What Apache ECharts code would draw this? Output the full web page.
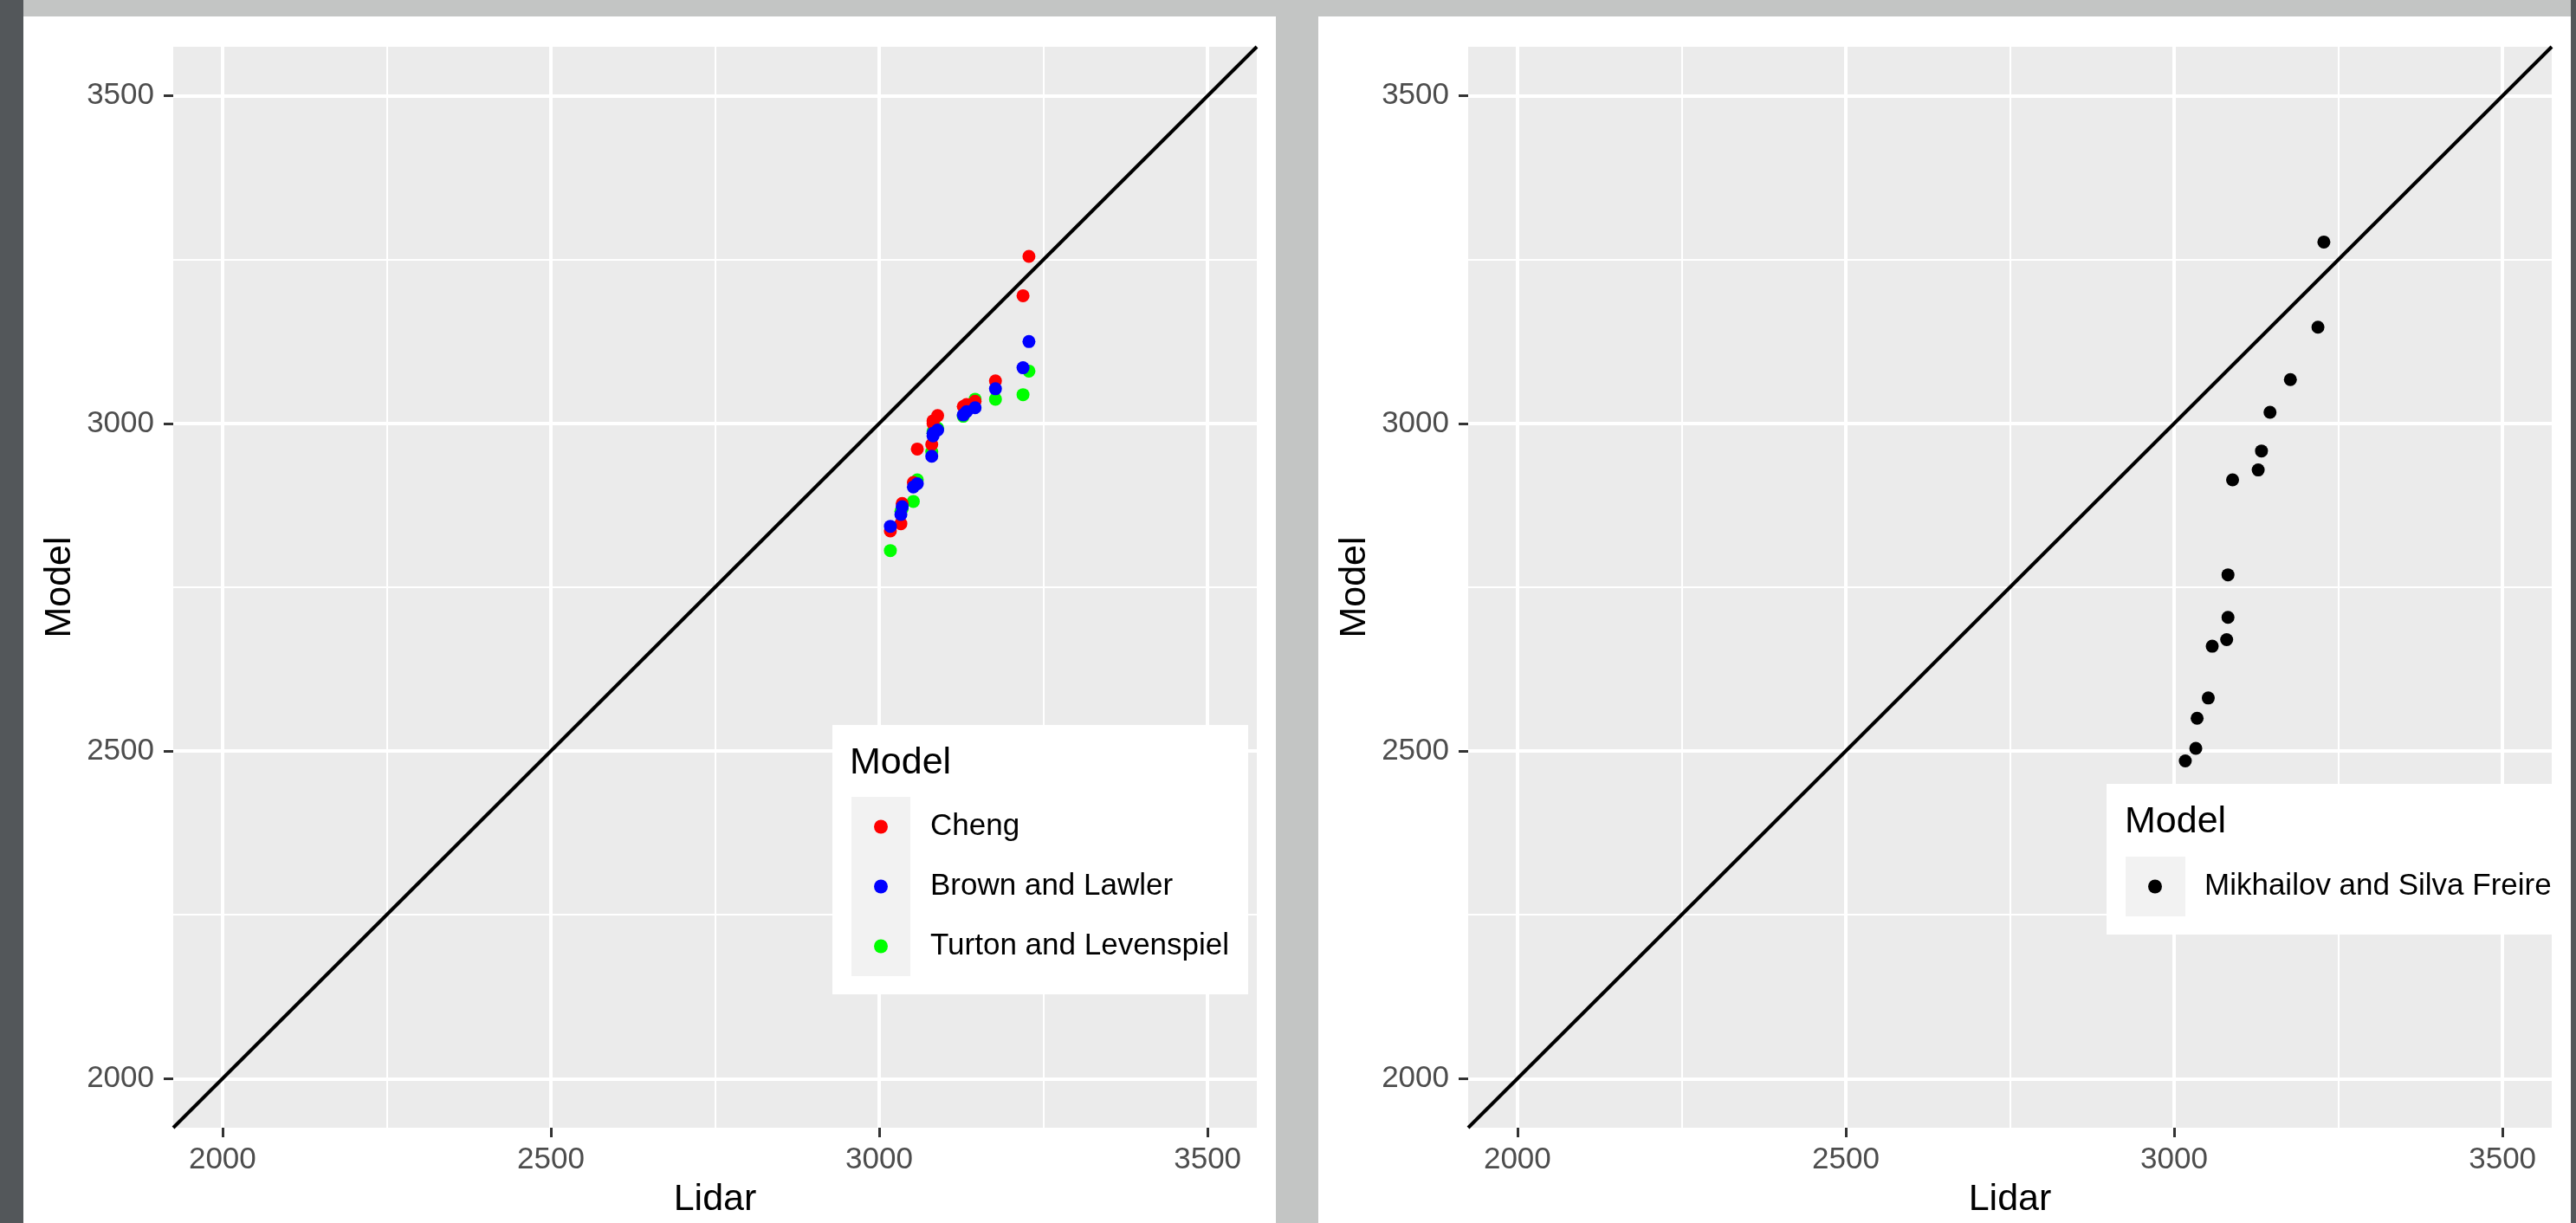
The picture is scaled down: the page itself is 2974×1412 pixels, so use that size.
<!DOCTYPE html>
<html>
<head>
<meta charset="utf-8">
<script src="https://cdn.jsdelivr.net/npm/echarts@6/dist/echarts.min.js"></script>
<style>
  html, body { margin: 0; padding: 0; width: 2974px; height: 1412px; overflow: hidden; background: #c3c5c4; }
  .bar { position: absolute; }
  #chart { position: absolute; left: 0; top: 0; width: 2974px; height: 1412px; }
</style>
</head>
<body>
<div class="bar" style="left:0;top:0;width:27px;height:1412px;background:#53575a;"></div>
<div class="bar" style="left:2968px;top:0;width:6px;height:1412px;background:#53575a;"></div>
<div class="bar" style="left:27px;top:19px;width:1446px;height:1393px;background:#ffffff;"></div>
<div class="bar" style="left:1522px;top:19px;width:1446px;height:1393px;background:#ffffff;"></div>
<div id="chart"></div>
<script>
// ---- data ----
const axisMin = 1925;
const axisMax = 3575;
const majorTicks = [2000, 2500, 3000, 3500];
const minorTicks = [2250, 2750, 3250];
const lidar = [3017, 3033, 3035, 3052, 3058, 3080, 3082, 3082, 3089, 3128, 3133, 3146, 3177, 3219, 3228];
const cheng = [2836, 2847, 2878, 2910, 2961, 2968, 3004, 3000, 3012, 3026, 3029, 3034, 3065, 3195, 3255];
const brownLawler = [2843, 2861, 2873, 2903, 2908, 2950, 2981, 2985, 2990, 3013, 3018, 3024, 3053, 3085, 3125];
const turtonLevenspiel = [2806, 2866, 2870, 2881, 2914, 2957, 2985, 2988, 2993, 3011, 3020, 3037, 3037, 3044, 3080];
const mikhailovSilvaFreire = [2485, 2504, 2550, 2581, 2660, 2670, 2704, 2769, 2914, 2929, 2958, 3017, 3067, 3147, 3277];
const leftModels = ['Cheng', 'Brown and Lawler', 'Turton and Levenspiel'];
const rightModels = ['Mikhailov and Silva Freire'];

const FONT = '"Liberation Sans", Arial, sans-serif';
const pairs = (xs, ys) => xs.map((x, i) => [x, ys[i]]);

function makeAxes(idx, which) {
  const label = { customValues: majorTicks, fontSize: 35, color: '#4d4d4d', fontFamily: FONT, formatter: v => String(v) };
  const common = {
    gridIndex: idx,
    type: 'value',
    min: axisMin,
    max: axisMax,
    axisLine: { show: false },
    axisTick: { show: true, length: 11, lineStyle: { color: '#333333', width: 3 }, customValues: majorTicks },
    splitLine: { show: false },
    nameLocation: 'middle',
    nameTextStyle: { fontSize: 43, color: '#000000', fontFamily: FONT }
  };
  if (which === 'x') {
    return Object.assign({}, common, { name: 'Lidar', nameGap: 62, axisLabel: Object.assign({}, label, { margin: 20 }) });
  }
  return Object.assign({}, common, { name: 'Model', nameGap: 109, nameRotate: 90, axisLabel: Object.assign({}, label, { margin: 22 }) });
}

function gridSeries(idx) {
  const lines = [];
  majorTicks.forEach(v => {
    lines.push({ xAxis: v, lineStyle: { width: 4 } });
    lines.push({ yAxis: v, lineStyle: { width: 4 } });
  });
  minorTicks.forEach(v => {
    lines.push({ xAxis: v, lineStyle: { width: 2 } });
    lines.push({ yAxis: v, lineStyle: { width: 2 } });
  });
  return {
    type: 'line', xAxisIndex: idx, yAxisIndex: idx, data: [], silent: true,
    markLine: {
      silent: true, z: 1, symbol: ['none', 'none'], label: { show: false },
      lineStyle: { color: '#ffffff', type: 'solid' }, animation: false, data: lines
    }
  };
}

function identitySeries(idx) {
  return {
    type: 'line', xAxisIndex: idx, yAxisIndex: idx, z: 2, silent: true,
    data: [[axisMin, axisMin], [axisMax, axisMax]], symbol: 'none',
    lineStyle: { color: '#000000', width: 4 }
  };
}

function scatter(name, idx, ys, color) {
  return {
    name: name, type: 'scatter', xAxisIndex: idx, yAxisIndex: idx, z: 3,
    symbol: 'circle', symbolSize: 15, data: pairs(lidar, ys),
    itemStyle: { color: color, opacity: 1 }
  };
}

function legendAt(names, left, top) {
  return {
    data: names, orient: 'vertical', left: left, top: top, z: 20,
    itemWidth: 16, itemHeight: 16, itemGap: 0, icon: 'circle', padding: 0,
    textStyle: { fontSize: 35, lineHeight: 69, color: '#000000', fontFamily: FONT, padding: [0, 0, 0, 44] },
    selectedMode: false
  };
}

const option = {
  animation: false,
  backgroundColor: 'transparent',
  textStyle: { fontFamily: FONT },
  grid: [
    { left: 200, top: 54, width: 1251, height: 1250, show: true, backgroundColor: '#ebebeb', borderWidth: 0 },
    { left: 1695, top: 54, width: 1251, height: 1250, show: true, backgroundColor: '#ebebeb', borderWidth: 0 }
  ],
  xAxis: [makeAxes(0, 'x'), makeAxes(1, 'x')],
  yAxis: [makeAxes(0, 'y'), makeAxes(1, 'y')],
  legend: [
    legendAt(leftModels, 1009, 920),
    legendAt(rightModels, 2480, 989)
  ],
  graphic: [
    { type: 'rect', z: 10, shape: { x: 961, y: 837, width: 480, height: 311 }, style: { fill: '#ffffff' } },
    { type: 'rect', z: 11, shape: { x: 983, y: 920, width: 68, height: 207 }, style: { fill: '#f2f2f2' } },
    { type: 'text', z: 12, x: 981, y: 881, style: { text: 'Model', font: '43px ' + FONT, fill: '#000000', verticalAlign: 'middle' } },
    { type: 'rect', z: 10, shape: { x: 2432, y: 905, width: 514, height: 174 }, style: { fill: '#ffffff' } },
    { type: 'rect', z: 11, shape: { x: 2454, y: 989, width: 69, height: 69 }, style: { fill: '#f2f2f2' } },
    { type: 'text', z: 12, x: 2453, y: 949, style: { text: 'Model', font: '43px ' + FONT, fill: '#000000', verticalAlign: 'middle' } }
  ],
  series: [
    gridSeries(0),
    gridSeries(1),
    identitySeries(0),
    identitySeries(1),
    scatter('Turton and Levenspiel', 0, turtonLevenspiel, '#00ff00'),
    scatter('Cheng', 0, cheng, '#ff0000'),
    scatter('Brown and Lawler', 0, brownLawler, '#0000ff'),
    scatter('Mikhailov and Silva Freire', 1, mikhailovSilvaFreire, '#000000')
  ]
};

const chart = echarts.init(document.getElementById('chart'), null, { renderer: 'canvas' });
chart.setOption(option);
</script>
</body>
</html>
